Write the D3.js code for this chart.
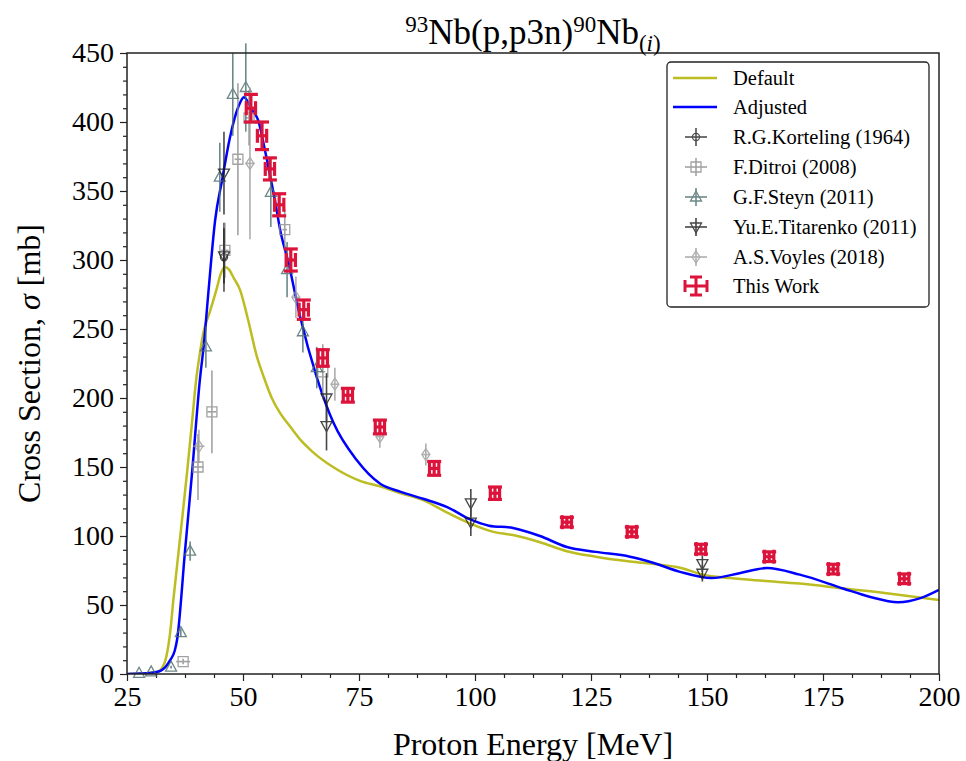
<!DOCTYPE html>
<html>
<head>
<meta charset="utf-8">
<script src="https://cdn.jsdelivr.net/npm/d3@7"></script>
<style>
  body { margin: 0; background: #fff; }
  svg text { font-family: "Liberation Serif", "Times New Roman", serif; }
</style>
</head>
<body>
<div id="chart"></div>
<script>
// model curves (energy in MeV, cross section in mb)
var defaultE = [25, 28, 30, 31.5, 32.5, 33.5, 34.3, 35, 36, 37, 38, 39, 39.9, 40.6, 41.5, 42.9, 44.4, 45.2, 46.1, 47, 48, 49.4, 51, 53, 54.5, 56.2, 58, 60, 62.3, 65, 69.4, 75.2, 79.5, 84, 88.8, 94, 99, 104, 108.2, 114, 119.8, 126, 133.4, 139, 144.2, 149.1, 155, 162, 170, 179.3, 190, 200];
var defaultV = [0, 0.3, 0.8, 1.5, 4, 13, 30, 54, 85, 116, 148, 182, 213, 230, 248, 263, 280, 290, 295, 293, 287, 278, 258, 230, 215, 200, 189, 180, 170, 161, 150, 140, 136, 131, 126, 117, 109, 103, 100.7, 95.5, 89, 85, 81.5, 79.5, 77, 72, 69.5, 67.5, 65.5, 62, 58, 53.6];

var adjustedE = [25, 28, 30, 32, 32.8, 33.5, 34.3, 35.3, 35.8, 37.5, 39, 40.7, 41.6, 42.5, 44, 45.5, 47.2, 49, 50.2, 51.9, 53.3, 54.7, 56.2, 56.9, 58, 59.8, 62.3, 65.9, 69.5, 74.5, 79.5, 84, 88.8, 94, 99, 103, 108.2, 114, 119.8, 126, 133.4, 138, 144.2, 151, 157, 162.9, 170, 179.3, 185, 191.2, 196, 200];
var adjustedV = [0, 0.3, 0.8, 2, 3.6, 6, 10, 17, 25, 89, 145, 213, 240, 275, 329, 358, 389, 411, 418, 409, 401, 380, 355, 343, 322, 298, 259, 215, 182, 155, 138, 132, 127, 121, 112, 107.5, 105.8, 100, 92, 88.5, 85, 81, 74, 69.5, 73, 76.8, 72, 62, 56, 52, 55, 61];

// experimental data
var kortelingE = [45.9];
var kortelingV = [302];
var kortelingErr = [25];

var ditroiE = [37.1, 40.3, 43.3, 46.1, 48.9, 51.3, 59.0, 67.2];
var ditroiV = [9, 150, 190, 307, 373, 403, 322, 219];
var ditroiErr = [2, 24, 30, 20, 55, 20, 15, 20];
var ditroiXErr = [1.5, 1.2, 1.0, 0.8, 0.7, 0.6, 0.5, 0.5];

var steynE = [27.6, 30.2, 34.5, 36.6, 38.6, 42.0, 45.0, 47.8, 50.6, 56.0, 59.5, 62.9, 65.9];
var steynV = [0.5, 1.5, 5, 30, 89, 237, 360, 420, 425, 349, 293, 248, 222];
var steynErr = [0.3, 0.5, 1, 3, 7, 15, 25, 30, 32, 25, 20, 15, 15];

var titarenkoE = [45.9, 45.9, 68.0, 68.0, 99.1, 99.1, 149.0, 149.0];
var titarenkoV = [363, 303, 200, 180, 124, 110, 80, 73];
var titarenkoErr = [30, 20, 18, 18, 10, 10, 6, 6];

var voylesE = [40.5, 51.5, 61.4, 69.8, 79.5, 89.4];
var voylesV = [165, 370, 273, 210, 172, 159];
var voylesErr = [12, 55, 15, 12, 8, 8];
var voylesXErr = [1.2, 1.0, 0.8, 0.8, 0.8, 0.8];

var workE = [51.7, 54.1, 55.8, 57.8, 60.3, 63.1, 67.2, 72.6, 79.5, 91.2, 104.3, 119.8, 133.8, 148.7, 163.4, 177.2, 192.5];
var workV = [410, 390, 366, 340, 300, 264, 229, 202, 179, 149, 131, 110, 103, 90.5, 85, 76, 69];
var workErr = [10, 10, 8, 8, 8, 7, 6, 5, 5, 5, 4.5, 3.5, 3.5, 3.5, 3.5, 3.5, 3.5];
var workXErr = [1, 1, 1, 1, 1, 1, 1, 1, 1, 1, 1, 1, 1, 1, 1, 1, 1];

var xTicks = [25, 50, 75, 100, 125, 150, 175, 200];
var yTicks = [0, 50, 100, 150, 200, 250, 300, 350, 400, 450];

const width = 966;
const height = 761;
const margin = { top: 53, right: 27, bottom: 87, left: 127 };
const serif = '"Liberation Serif", "Times New Roman", serif';

const svg = d3.select('#chart')
  .append('svg')
  .attr('width', width)
  .attr('height', height);

const x = d3.scaleLinear()
  .domain([25, 200])
  .range([margin.left, width - margin.right]);

const y = d3.scaleLinear()
  .domain([0, 450])
  .range([height - margin.bottom, margin.top]);

// clip for curves
svg.append('clipPath').attr('id', 'plotclip')
  .append('rect')
  .attr('x', margin.left).attr('y', margin.top)
  .attr('width', x(200) - x(25)).attr('height', y(0) - y(450));

// axes
function xAxis(g) {
  g.attr('transform', `translate(0,${y(0)})`)
    .call(d3.axisBottom(x).tickValues(xTicks).tickSize(7).tickPadding(5))
    .attr('font-size', '28px')
    .attr('font-family', serif);
  g.select('.domain').remove();
}
function yAxis(g) {
  g.attr('transform', `translate(${x(25)},0)`)
    .call(d3.axisLeft(y).tickValues(yTicks).tickSize(7).tickPadding(6))
    .attr('font-size', '28px')
    .attr('font-family', serif);
  g.select('.domain').remove();
}
var minorX = d3.range(25, 200.01, 6.25).filter(d => xTicks.indexOf(d) < 0);
var minorY = d3.range(0, 450.01, 10).filter(d => d % 50 !== 0);

svg.append('g').call(xAxis);
svg.append('g').call(yAxis);
svg.append('g').attr('transform', `translate(0,${y(0)})`)
  .call(d3.axisBottom(x).tickValues(minorX).tickSize(4).tickFormat(''))
  .select('.domain').remove();
svg.append('g').attr('transform', `translate(${x(25)},0)`)
  .call(d3.axisLeft(y).tickValues(minorY).tickSize(4).tickFormat(''))
  .select('.domain').remove();
svg.selectAll('.tick line').attr('stroke', '#222').attr('stroke-width', 1.2);
svg.selectAll('.tick text').attr('fill', '#000').style('font-family', serif);

// curves
const line = d3.line()
  .x(d => x(d[0]))
  .y(d => y(d[1]))
  .curve(d3.curveMonotoneX);

svg.append('path')
  .datum(defaultE.map((e, i) => [e, defaultV[i]]))
  .attr('clip-path', 'url(#plotclip)')
  .attr('fill', 'none')
  .attr('stroke', '#bcbd22')
  .attr('stroke-width', 2.5)
  .attr('d', line);

svg.append('path')
  .datum(adjustedE.map((e, i) => [e, adjustedV[i]]))
  .attr('clip-path', 'url(#plotclip)')
  .attr('fill', 'none')
  .attr('stroke', '#0000ff')
  .attr('stroke-width', 2.5)
  .attr('d', line);

// experimental series
var series = [
  { name: 'R.G.Korteling (1964)', E: kortelingE, V: kortelingV, err: kortelingErr, xerr: null, color: '#222', symbol: 'circle', opacity: 0.8 },
  { name: 'F.Ditroi (2008)', E: ditroiE, V: ditroiV, err: ditroiErr, xerr: ditroiXErr, color: '#8c8c8c', symbol: 'square', opacity: 0.8 },
  { name: 'G.F.Steyn (2011)', E: steynE, V: steynV, err: steynErr, xerr: null, color: '#4b6b6b', symbol: 'triup', opacity: 0.8 },
  { name: 'Yu.E.Titarenko (2011)', E: titarenkoE, V: titarenkoV, err: titarenkoErr, xerr: null, color: '#1a1a1a', symbol: 'tridown', opacity: 0.8 },
  { name: 'A.S.Voyles (2018)', E: voylesE, V: voylesV, err: voylesErr, xerr: voylesXErr, color: '#9a9a9a', symbol: 'diamond', opacity: 0.8 }
];

function markerPath(sym) {
  if (sym === 'circle') return d3.symbol(d3.symbolCircle, 40)();
  if (sym === 'square') return 'M-5,-5H5V5H-5Z';
  if (sym === 'triup') return 'M0,-6L5.5,4L-5.5,4Z';
  if (sym === 'tridown') return 'M0,6L5.5,-4L-5.5,-4Z';
  if (sym === 'diamond') return 'M0,-6L4,0L0,6L-4,0Z';
}

series.forEach(function(s) {
  var g = svg.append('g').attr('opacity', s.opacity);
  var pts = s.E.map((e, i) => ({ e: e, v: s.V[i], err: s.err[i], xerr: s.xerr ? s.xerr[i] : 0 }));
  g.selectAll('line.ey').data(pts).join('line')
    .attr('x1', d => x(d.e)).attr('x2', d => x(d.e))
    .attr('y1', d => y(d.v - d.err)).attr('y2', d => y(d.v + d.err))
    .attr('stroke', s.color).attr('stroke-width', 1.6);
  g.selectAll('line.ex').data(pts.filter(d => d.xerr > 0)).join('line')
    .attr('x1', d => x(d.e - d.xerr)).attr('x2', d => x(d.e + d.xerr))
    .attr('y1', d => y(d.v)).attr('y2', d => y(d.v))
    .attr('stroke', s.color).attr('stroke-width', 1.6);
  g.selectAll('path').data(pts).join('path')
    .attr('transform', d => `translate(${x(d.e)},${y(d.v)})`)
    .attr('d', markerPath(s.symbol))
    .attr('fill', 'none')
    .attr('stroke', s.color).attr('stroke-width', 1.3);
});

// this work
var work = workE.map((e, i) => ({ e: e, v: workV[i], err: workErr[i], xerr: workXErr[i] }));
var red = '#dc143c';
var wg = svg.append('g').attr('stroke', red).attr('stroke-width', 3.2);
work.forEach(function(d) {
  var cx = x(d.e), cy = y(d.v), cap = 7;
  wg.append('line').attr('x1', cx).attr('x2', cx).attr('y1', y(d.v - d.err)).attr('y2', y(d.v + d.err));
  wg.append('line').attr('x1', x(d.e - d.xerr)).attr('x2', x(d.e + d.xerr)).attr('y1', cy).attr('y2', cy);
  wg.append('line').attr('x1', cx - cap).attr('x2', cx + cap).attr('y1', y(d.v - d.err)).attr('y2', y(d.v - d.err));
  wg.append('line').attr('x1', cx - cap).attr('x2', cx + cap).attr('y1', y(d.v + d.err)).attr('y2', y(d.v + d.err));
  wg.append('line').attr('x1', x(d.e - d.xerr)).attr('x2', x(d.e - d.xerr)).attr('y1', cy - cap).attr('y2', cy + cap);
  wg.append('line').attr('x1', x(d.e + d.xerr)).attr('x2', x(d.e + d.xerr)).attr('y1', cy - cap).attr('y2', cy + cap);
});

// frame
svg.append('rect')
  .attr('x', x(25)).attr('y', y(450))
  .attr('width', x(200) - x(25)).attr('height', y(0) - y(450))
  .attr('fill', 'none').attr('stroke', '#222').attr('stroke-width', 1.5);

// title
var title = svg.append('text')
  .attr('x', (x(25) + x(200)) / 2).attr('y', 44)
  .attr('text-anchor', 'middle')
  .attr('font-size', '35px');
title.append('tspan').attr('font-size', '23px').attr('dy', -12).text('93');
title.append('tspan').attr('dy', 12).text('Nb(p,p3n)');
title.append('tspan').attr('font-size', '23px').attr('dy', -12).text('90');
title.append('tspan').attr('dy', 12).text('Nb');
title.append('tspan').attr('font-size', '23px').attr('dy', 7).text('(');
title.append('tspan').attr('font-size', '23px').attr('font-style', 'italic').text('i');
title.append('tspan').attr('font-size', '23px').text(')');

// axis labels
svg.append('text')
  .attr('x', (x(25) + x(200)) / 2).attr('y', 755)
  .attr('text-anchor', 'middle')
  .attr('font-size', '32px')
  .text('Proton Energy [MeV]');

var ylab = svg.append('text')
  .attr('transform', `translate(40,${(y(0) + y(450)) / 2}) rotate(-90)`)
  .attr('text-anchor', 'middle')
  .attr('font-size', '32px');
ylab.append('tspan').text('Cross Section, ');
ylab.append('tspan').attr('font-style', 'italic').text('σ');
ylab.append('tspan').text(' [mb]');

// legend
var lg = svg.append('g');
lg.append('rect')
  .attr('x', 667).attr('y', 62).attr('width', 262).attr('height', 245)
  .attr('rx', 4)
  .attr('fill', 'white').attr('fill-opacity', 0.85)
  .attr('stroke', '#222').attr('stroke-width', 1.3);

var legendNames = ['Default', 'Adjusted'].concat(series.map(s => s.name)).concat(['This Work']);
var rowY = [78, 107, 137, 167, 197, 227, 257, 286];
legendNames.forEach(function(n, i) {
  lg.append('text').attr('x', 733).attr('y', rowY[i] + 7).attr('font-size', '20.5px').text(n);
});
lg.append('line').attr('x1', 673).attr('x2', 717).attr('y1', rowY[0]).attr('y2', rowY[0])
  .attr('stroke', '#bcbd22').attr('stroke-width', 2.5);
lg.append('line').attr('x1', 673).attr('x2', 717).attr('y1', rowY[1]).attr('y2', rowY[1])
  .attr('stroke', '#0000ff').attr('stroke-width', 2.5);
series.forEach(function(s, i) {
  var cy = rowY[i + 2], cx = 696;
  var g = lg.append('g').attr('opacity', s.opacity);
  g.append('line').attr('x1', cx - 11).attr('x2', cx + 11).attr('y1', cy).attr('y2', cy)
    .attr('stroke', s.color).attr('stroke-width', 1.6);
  g.append('line').attr('x1', cx).attr('x2', cx).attr('y1', cy - 9).attr('y2', cy + 9)
    .attr('stroke', s.color).attr('stroke-width', 1.6);
  g.append('path').attr('transform', `translate(${cx},${cy})`).attr('d', markerPath(s.symbol))
    .attr('fill', 'none').attr('stroke', s.color).attr('stroke-width', 1.3);
});
(function() {
  var cy = rowY[7], cx = 696;
  var g = lg.append('g').attr('stroke', red).attr('stroke-width', 3);
  g.append('line').attr('x1', cx - 11).attr('x2', cx + 11).attr('y1', cy).attr('y2', cy);
  g.append('line').attr('x1', cx).attr('x2', cx).attr('y1', cy - 9).attr('y2', cy + 9);
  g.append('line').attr('x1', cx - 6).attr('x2', cx + 6).attr('y1', cy - 9).attr('y2', cy - 9);
  g.append('line').attr('x1', cx - 6).attr('x2', cx + 6).attr('y1', cy + 9).attr('y2', cy + 9);
  g.append('line').attr('x1', cx - 11).attr('x2', cx - 11).attr('y1', cy - 6).attr('y2', cy + 6);
  g.append('line').attr('x1', cx + 11).attr('x2', cx + 11).attr('y1', cy - 6).attr('y2', cy + 6);
})();
</script>
</body>
</html>
